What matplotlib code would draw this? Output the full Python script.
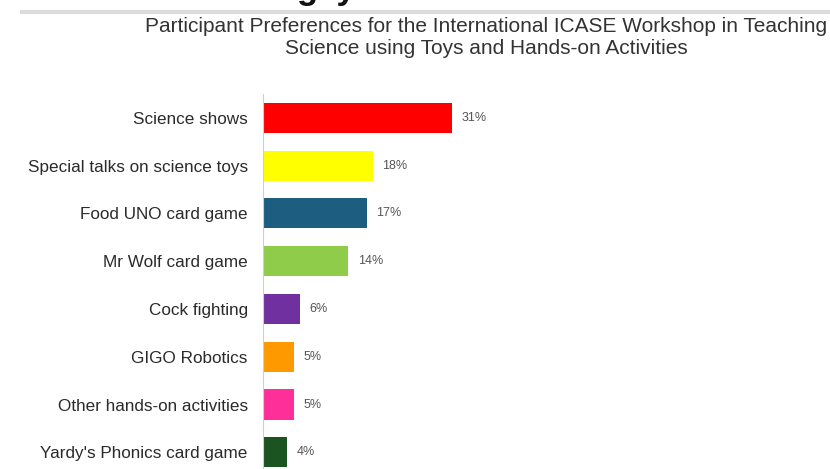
import matplotlib
matplotlib.use("Agg")
import matplotlib.pyplot as plt
from matplotlib.lines import Line2D

categories = [
    "Science shows",
    "Special talks on science toys",
    "Food UNO card game",
    "Mr Wolf card game",
    "Cock fighting",
    "GIGO Robotics",
    "Other hands-on activities",
    "Yardy's Phonics card game",
]
percentages = [31, 18, 17, 14, 6, 5, 5, 4]
value_labels = ["31%", "18%", "17%", "14%", "6%", "5%", "5%", "4%"]
bar_colors = ["#ff0000", "#ffff00", "#1d5e80", "#8fcc4a",
              "#7030a0", "#ff9900", "#ff2f9a", "#1b5420"]

title = ("Participant Preferences for the International ICASE Workshop in Teaching\n"
         "Science using Toys and Hands-on Activities")

W, H = 830, 469
fig = plt.figure(figsize=(W / 100, H / 100), dpi=100)
fig.patch.set_facecolor("white")
plt.rcParams["font.family"] = ["Liberation Sans", "DejaVu Sans"]

# page header remnants above the chart
fig.add_artist(Line2D([22 / W, 1.0], [1 - 12.5 / H, 1 - 12.5 / H],
                      color="#dcdcdc", linewidth=3))
fig.text(297 / W, 1 + 0.5 / H, "gey", fontsize=25, fontweight="bold",
         color="#111111", ha="left", va="baseline")

fig.text(486 / W, 1 - 17 / H, title, ha="center", va="top", fontsize=15,
         color="#333333", linespacing=1.2)

left_px, top_px, bottom_px = 263, 94, 469
px_per_unit = 6.1
xmax = 40
ax = fig.add_axes([left_px / W, 1 - bottom_px / H,
                   xmax * px_per_unit / W, (bottom_px - top_px) / H])
ax.set_facecolor("none")

positions = list(range(len(categories)))
ax.barh(positions, percentages, height=0.63, color=bar_colors, zorder=2)
ax.set_xlim(0, xmax)
ax.set_ylim(7.35, -0.5)

ax.set_yticks(positions)
ax.set_yticklabels(categories, fontsize=12.3, color="#2a2a2a")
ax.tick_params(axis="y", length=0, pad=11)
ax.set_xticks([])
for side in ("top", "right", "bottom"):
    ax.spines[side].set_visible(False)
ax.spines["left"].set_color("#c8d0dc")
ax.spines["left"].set_linewidth(0.8)

for y, v, lab in zip(positions, percentages, value_labels):
    ax.annotate(lab, (v, y), xytext=(7, 0), textcoords="offset points",
                ha="left", va="center", fontsize=9, color="#555555",
                annotation_clip=False)

fig.savefig("out.png", dpi=100, facecolor="white")
